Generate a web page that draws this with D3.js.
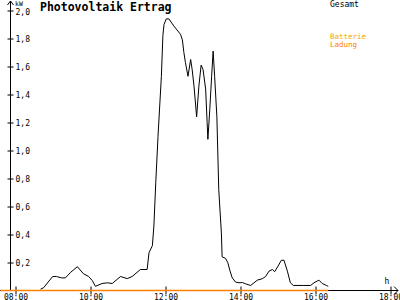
<!DOCTYPE html>
<html lang="de">
<head>
<meta charset="UTF-8">
<title>Photovoltaik Ertrag</title>
<script src="https://cdn.jsdelivr.net/npm/d3@7"></script>
<style>
  * { margin: 0; padding: 0; }
  body { background: #fff; }
  svg { display: block; font-family: "DejaVu Sans Mono", monospace; }
</style>
</head>
<body>
<div id="chart"></div>
<script>
// Zeit in Stunden (dezimal), Leistung in kW
const gesamtZeit = [8.67, 8.75, 8.99, 9.09, 9.23, 9.33, 9.47, 9.65, 9.81, 9.95,
  10.05, 10.13, 10.31, 10.45, 10.58, 10.80, 10.98, 11.11, 11.33, 11.51,
  11.56, 11.65, 11.69, 11.74, 11.80, 11.85, 11.89, 11.93, 11.96, 12.02,
  12.09, 12.22, 12.40, 12.45, 12.49, 12.53, 12.60, 12.67, 12.71, 12.76,
  12.83, 12.89, 12.95, 13.00, 13.07, 13.11, 13.13, 13.18, 13.23, 13.27,
  13.31, 13.37, 13.42, 13.49, 13.51, 13.60, 13.66, 13.72, 13.78, 13.87,
  13.96, 14.05, 14.13, 14.27, 14.36, 14.45, 14.58, 14.67, 14.76, 14.85,
  14.91, 15.00, 15.09, 15.16, 15.25, 15.33, 15.41, 15.69, 15.87, 15.96,
  16.09, 16.18, 16.29, 16.34];
const gesamt = [0.01, 0.02, 0.10, 0.10, 0.09, 0.09, 0.13, 0.17, 0.12, 0.10,
  0.07, 0.03, 0.05, 0.055, 0.05, 0.10, 0.085, 0.10, 0.15, 0.15,
  0.27, 0.32, 0.46, 0.77, 1.10, 1.34, 1.53, 1.82, 1.90, 1.94,
  1.94, 1.89, 1.83, 1.79, 1.70, 1.63, 1.53, 1.65, 1.58, 1.46,
  1.24, 1.46, 1.61, 1.58, 1.44, 1.20, 1.08, 1.29, 1.53, 1.71,
  1.53, 1.24, 0.72, 0.41, 0.24, 0.23, 0.20, 0.14, 0.09, 0.06,
  0.055, 0.057, 0.048, 0.036, 0.055, 0.074, 0.084, 0.10, 0.138, 0.15,
  0.134, 0.174, 0.216, 0.216, 0.138, 0.055, 0.036, 0.036, 0.036, 0.055,
  0.074, 0.05, 0.036, 0.03];

const ladungZeit = [7.6, 16.34];
const ladung = [0, 0];

const xTicks = [8, 10, 12, 14, 16, 18];
const yTicks = [0.2, 0.4, 0.6, 0.8, 1.0, 1.2, 1.4, 1.6, 1.8, 2.0];

const W = 400, H = 300;
const svg = d3.select("#chart").append("svg")
  .attr("width", W).attr("height", H);

const x = d3.scaleLinear().domain([8, 18]).range([15.5, 390.5]);
const y = d3.scaleLinear().domain([0, 2]).range([290.5, 10.5]);
const axX = 10.5;

// Achsen
const yAxis = svg.append("g")
  .attr("transform", `translate(${axX},0)`)
  .call(d3.axisLeft(y).tickValues(yTicks)
    .tickFormat(d => d3.format(".1f")(d).replace(".", ",")));
yAxis.select(".domain").remove();
yAxis.selectAll(".tick line").attr("x1", -3).attr("x2", 3).attr("stroke", "#000");
yAxis.selectAll(".tick text")
  .attr("x", 5).attr("text-anchor", "start").attr("dy", "0.35em")
  .attr("font-size", 8).attr("fill", "#000")
  .attr("font-family", "DejaVu Sans Mono, monospace");
// oberste Beschriftung etwas tiefer, wie im Original
yAxis.selectAll(".tick text").filter(d => d === 2).attr("dy", "0.5em");

const xAxis = svg.append("g")
  .attr("transform", `translate(0,${y(0)})`)
  .call(d3.axisBottom(x).tickValues(xTicks)
    .tickFormat(d => d3.format("02d")(d) + ":00"));
xAxis.select(".domain").remove();
xAxis.selectAll(".tick line").attr("y1", -4).attr("y2", 4).attr("stroke", "#000");
xAxis.selectAll(".tick text")
  .attr("y", 9).attr("dy", 0)
  .attr("font-size", 8).attr("fill", "#000")
  .attr("font-family", "DejaVu Sans Mono, monospace");

// Achsenlinien mit Pfeilen
svg.append("path")
  .attr("d", `M${axX},291 V1 M${axX - 3},5 L${axX},1 L${axX + 3},5`)
  .attr("fill", "none").attr("stroke", "#000");
svg.append("path")
  .attr("d", `M0,${y(0)} H398 M394,${y(0) - 4} L398,${y(0)} L394,${y(0) + 4}`)
  .attr("fill", "none").attr("stroke", "#000");

svg.append("text").attr("x", 15).attr("y", 6)
  .attr("font-size", 6.5).text("kW");
svg.append("text").attr("x", 387).attr("y", 284)
  .attr("font-size", 8).attr("text-anchor", "middle").text("h");

// Linien
const line = d3.line().x(d => x(d[0])).y(d => y(d[1]));

svg.append("path")
  .datum(ladungZeit.map((t, i) => [t, ladung[i]]))
  .attr("d", line)
  .attr("fill", "none").attr("stroke", "#ff8000").attr("stroke-width", 1.5);

svg.append("path")
  .datum(gesamtZeit.map((t, i) => [t, gesamt[i]]))
  .attr("d", line)
  .attr("fill", "none").attr("stroke", "#000").attr("stroke-width", 1);

// Titel und Legende
svg.append("text").attr("x", 40).attr("y", 11)
  .attr("font-size", 11.5).attr("font-weight", "bold")
  .text("Photovoltaik Ertrag");
svg.append("text").attr("x", 330).attr("y", 7)
  .attr("font-size", 8).text("Gesamt");
svg.append("text").attr("x", 330).attr("y", 38.5)
  .attr("font-size", 7.5).attr("fill", "#f5a800").text("Batterie");
svg.append("text").attr("x", 330).attr("y", 46.5)
  .attr("font-size", 7.5).attr("fill", "#ff8000").text("Ladung");
</script>
</body>
</html>
